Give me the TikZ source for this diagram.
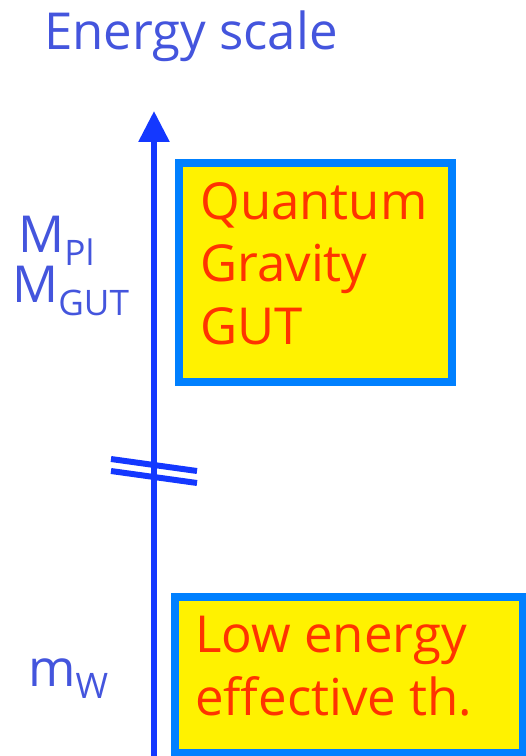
\documentclass[tikz,border=0pt]{standalone}
\usepackage{fontspec}
\setmainfont{Open Sans}
\usetikzlibrary{arrows.meta,positioning}

\definecolor{axisblue}{HTML}{1438FF}
\definecolor{boxblue}{HTML}{0080FF}
\definecolor{labelblue}{HTML}{4455DD}
\definecolor{boxred}{HTML}{FF3300}

\newcommand{\lowsub}[1]{\raisebox{-7pt}{\fontsize{20}{20}\selectfont #1}}

\begin{document}
\begin{tikzpicture}[
    x=0.02cm, y=-0.02cm,
    every node/.style={inner sep=0pt},
    axis/.style={draw=axisblue, line width=3.4pt},
    regime/.style={draw=boxblue, fill=yellow, line width=4.6pt, anchor=north west},
    regimetext/.style={text=boxred, align=left, anchor=north west,
        font=\fontsize{29}{35.5}\selectfont},
    scalelabel/.style={text=labelblue, font=\fontsize{29}{29}\selectfont}
]
\useasboundingbox (0,0) rectangle (525,756);

% Title
\node[scalelabel, font=\fontsize{29}{29}\selectfont, anchor=base] (title) at (191,50) {Energy scale};

% Energy axis
\coordinate (axbot) at (154,760);
\coordinate (axtop) at (154,111);
\draw[axis, -{Triangle[length=17.6pt, width=17pt]}] (axbot) -- (axtop);

% Break in the axis
\draw[axis] (111,459) -- (197,471);
\draw[axis] (111,471) -- (197,483);

% Regimes
\node[regime, minimum width=155.3pt, minimum height=124.6pt] (uv) at (175,159) {};
\node[regimetext] (uvtext) at ([shift={(25,23)}]uv.north west) {Quantum\\Gravity\\GUT};

\node[regime, minimum width=198pt, minimum height=88.8pt] (ir) at (171,593) {};
\node[regimetext] (irtext) at ([shift={(24,23)}]ir.north west) {Low energy\\effective th.};

% Scale labels
\node[scalelabel, anchor=base west] (mpl) at (18,253) {M\lowsub{Pl}};
\node[scalelabel, anchor=base west] (mgut) at (12,303) {M\lowsub{GUT}};
\node[scalelabel, anchor=base west] (mw) at (28,686) {m\lowsub{W}};

\end{tikzpicture}
\end{document}
